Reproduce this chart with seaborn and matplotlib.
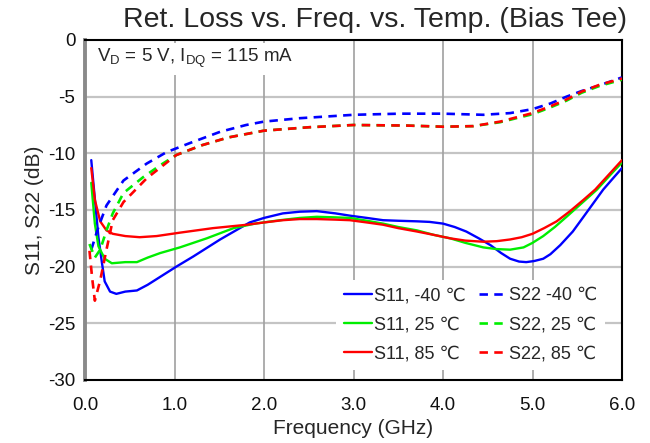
import matplotlib
matplotlib.use("Agg")
import matplotlib.pyplot as plt
import seaborn as sns
import pandas as pd

# ---------------- data ----------------
s11_m40_x = [0.07, 0.11, 0.15, 0.19, 0.22, 0.28, 0.35, 0.45, 0.58, 0.70, 0.84, 1.02, 1.21, 1.51, 1.84, 2.00,
             2.21, 2.40, 2.59, 2.80, 2.96, 3.15, 3.33, 3.50, 3.71, 3.85, 4.00, 4.13, 4.26, 4.40, 4.53, 4.65,
             4.75, 4.85, 4.93, 5.02, 5.12, 5.20, 5.31, 5.45, 5.57, 5.68, 5.79, 5.90, 6.00]
s11_m40_y = [-10.6, -14.0, -17.4, -19.7, -21.3, -22.2, -22.4, -22.2, -22.1, -21.6, -20.9, -20.0, -19.1, -17.6,
             -16.1, -15.7, -15.3, -15.15, -15.1, -15.3, -15.5, -15.7, -15.9, -15.95, -16.0, -16.05, -16.2,
             -16.5, -16.9, -17.5, -18.1, -18.8, -19.3, -19.55, -19.6, -19.5, -19.3, -18.9, -18.1, -16.9,
             -15.6, -14.4, -13.2, -12.2, -11.3]

s11_25_x = [0.07, 0.11, 0.15, 0.22, 0.30, 0.45, 0.58, 0.70, 0.84, 1.06, 1.36, 1.66, 1.90, 2.18, 2.40, 2.59,
            2.80, 2.96, 3.15, 3.33, 3.50, 3.71, 3.90, 4.08, 4.25, 4.45, 4.60, 4.75, 4.90, 5.00, 5.12, 5.25,
            5.38, 5.55, 5.72, 5.87, 6.00]
s11_25_y = [-12.6, -16.2, -18.2, -19.3, -19.7, -19.6, -19.6, -19.2, -18.8, -18.3, -17.5, -16.6, -16.2, -15.9,
            -15.7, -15.6, -15.65, -15.7, -15.95, -16.2, -16.5, -16.8, -17.2, -17.5, -17.9, -18.3, -18.45,
            -18.5, -18.3, -17.9, -17.3, -16.5, -15.6, -14.4, -13.2, -11.9, -10.8]

s11_85_x = [0.07, 0.11, 0.17, 0.24, 0.31, 0.45, 0.61, 0.80, 1.06, 1.43, 1.81, 2.00, 2.21, 2.40, 2.59, 2.80,
            2.96, 3.15, 3.33, 3.50, 3.71, 3.90, 4.08, 4.25, 4.45, 4.60, 4.75, 4.88, 5.00, 5.13, 5.27, 5.42,
            5.57, 5.70, 5.85, 6.00]
s11_85_y = [-11.3, -14.1, -16.0, -16.8, -17.1, -17.3, -17.4, -17.3, -17.0, -16.6, -16.3, -16.1, -15.9, -15.8,
            -15.8, -15.85, -15.9, -16.1, -16.3, -16.6, -16.9, -17.2, -17.5, -17.7, -17.8, -17.75, -17.6,
            -17.4, -17.1, -16.6, -16.0, -15.1, -14.1, -13.2, -11.9, -10.6]

s22_m40_x = [0.07, 0.15, 0.24, 0.43, 0.69, 0.91, 1.17, 1.51, 1.80, 2.00, 2.40, 2.80, 3.00, 3.52, 4.00, 4.45,
             4.75, 5.00, 5.20, 5.38, 5.55, 5.75, 6.00]
s22_m40_y = [-18.5, -16.5, -14.6, -12.4, -10.9, -9.9, -9.1, -8.1, -7.5, -7.2, -6.9, -6.7, -6.6, -6.5, -6.5,
             -6.6, -6.45, -6.1, -5.6, -5.0, -4.5, -4.0, -3.3]

s22_25_x = [0.05, 0.11, 0.17, 0.24, 0.31, 0.43, 0.65, 0.85, 1.02, 1.30, 1.60, 2.00, 2.50, 3.00, 3.60, 4.00,
            4.34, 4.64, 5.00, 5.20, 5.38, 5.55, 5.75, 6.00]
s22_25_y = [-18.0, -19.2, -18.5, -16.8, -15.3, -13.5, -12.1, -11.0, -10.15, -9.3, -8.6, -8.0, -7.7, -7.5,
            -7.55, -7.65, -7.6, -7.25, -6.55, -5.95, -5.35, -4.65, -4.05, -3.5]

s22_85_x = [0.05, 0.08, 0.11, 0.17, 0.24, 0.31, 0.43, 0.69, 1.02, 1.30, 1.60, 2.00, 2.50, 3.00, 3.60, 4.00,
            4.34, 4.64, 5.00, 5.20, 5.38, 5.55, 5.75, 6.00]
s22_85_y = [-18.6, -21.0, -23.0, -21.2, -18.5, -15.9, -14.3, -12.2, -10.15, -9.3, -8.6, -8.0, -7.7, -7.5,
            -7.55, -7.65, -7.6, -7.2, -6.45, -5.85, -5.25, -4.55, -3.95, -3.4]

x_ticks = [0, 1, 2, 3, 4, 5, 6]
x_tick_labels = ["0.0", "1.0", "2.0", "3.0", "4.0", "5.0", "6.0"]
y_ticks = [0, -5, -10, -15, -20, -25, -30]
y_tick_labels = ["0", "-5", "-10", "-15", "-20", "-25", "-30"]

series = [
    ("S11, -40 \u2103", s11_m40_x, s11_m40_y, "#0000ff", "-"),
    ("S11, 25 \u2103", s11_25_x, s11_25_y, "#00ee00", "-"),
    ("S11, 85 \u2103", s11_85_x, s11_85_y, "#ff0000", "-"),
    ("S22 -40 \u2103", s22_m40_x, s22_m40_y, "#0000ff", "--"),
    ("S22, 25 \u2103", s22_25_x, s22_25_y, "#00ee00", "--"),
    ("S22, 85 \u2103", s22_85_x, s22_85_y, "#ff0000", "--"),
]

# ---------------- style ----------------
sns.set_style("white")
plt.rcParams["font.family"] = ["Liberation Sans", "DejaVu Sans"]
plt.rcParams["axes.unicode_minus"] = False

fig = plt.figure(figsize=(6.5, 4.43), dpi=100)
ax = fig.add_axes([85 / 650, 1 - 380 / 443, (622 - 85) / 650, (380 - 40) / 443])

# grid
for yv in y_ticks[1:-1]:
    ax.axhline(yv, color="#c4c4c4", lw=1.6, zorder=0)
for xv in x_ticks[1:-1]:
    ax.axvline(xv, color="#a0a0a0", lw=1.2, zorder=0)

for label, xs, ys, col, ls in series:
    df = pd.DataFrame({"x": xs, "y": ys})
    if ls == "-":
        sns.lineplot(data=df, x="x", y="y", color=col, lw=1.7, ax=ax, label=label, zorder=3)
    else:
        sns.lineplot(data=df, x="x", y="y", color=col, lw=1.9, ax=ax, label=label,
                     linestyle=(0, (3.2, 2.4)), zorder=3)

ax.set_xlim(0, 6)
ax.set_ylim(-30, 0)
ax.set_xticks(x_ticks)
ax.set_xticklabels(x_tick_labels)
ax.set_yticks(y_ticks)
ax.set_yticklabels(y_tick_labels)
ax.tick_params(axis="x", length=0, labelsize=13.5, pad=12, colors="#111111")
ax.tick_params(axis="y", length=0, labelsize=13.5, pad=7, colors="#111111")
ax.set_xlabel("Frequency (GHz)", fontsize=15, labelpad=3.5)
ax.set_ylabel("S11, S22 (dB)", fontsize=15, labelpad=3)

for side in ["top", "right", "bottom"]:
    ax.spines[side].set_color("black")
    ax.spines[side].set_linewidth(1.5)
ax.spines["left"].set_color("#8a8a8a")
ax.spines["left"].set_linewidth(2.8)

leg = ax.legend(ncol=2, loc="lower right", fontsize=13, frameon=True, fancybox=False,
                handlelength=1.6, handletextpad=0.1, columnspacing=0.7, labelspacing=0.68,
                borderaxespad=0.0, bbox_to_anchor=(0.968, 0.03))
leg.get_frame().set_edgecolor("none")
leg.get_frame().set_facecolor("white")
leg.get_frame().set_alpha(1)

ax.text(0.022, 0.945, "V$_\\mathregular{D}$ = 5 V, I$_\\mathregular{DQ}$ = 115 mA", transform=ax.transAxes,
        fontsize=13.5, va="center", ha="left",
        bbox=dict(facecolor="white", edgecolor="none", pad=3), zorder=5)

fig.text(375 / 650, 1 - 20 / 443, "Ret. Loss vs. Freq. vs. Temp. (Bias Tee)", fontsize=20.5,
         ha="center", va="center")

fig.savefig("out.png", dpi=100)
